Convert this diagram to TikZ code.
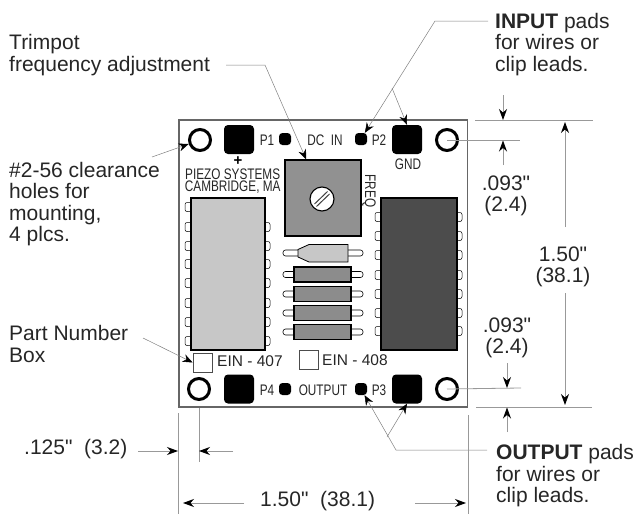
\documentclass[tikz,border=0pt]{standalone}
\usepackage{fontspec}
\setmainfont{Liberation Sans}[Ligatures=TeXOff]
\newfontfamily\boardfont[FakeStretch=0.77,Ligatures=TeXOff]{Liberation Sans}
\usetikzlibrary{arrows.meta}
\tikzset{
	caption/.style={anchor=west, align=left, inner sep=0pt, font=\fontsize{21}{21.5}\selectfont, text=black!85},
	dimtext/.style={align=center, inner sep=0pt, font=\fontsize{21}{21.5}\selectfont, text=black!85},
	boardtext/.style={inner sep=0pt, font=\boardfont\fontsize{15.3}{12.5}\selectfont, text=black!85},
	eintext/.style={anchor=west, inner sep=0pt, font=\fontsize{15.5}{16}\selectfont, text=black!85},
	bigpad/.style={fill=black, rounded corners=4pt, minimum width=30pt, minimum height=29pt, inner sep=0pt},
	dotpad/.style={fill=black, rounded corners=3.5pt, minimum size=12pt, inner sep=0pt},
	hole/.style={circle, draw=black, line width=3pt, fill=white, minimum size=21pt, inner sep=0pt},
	partbox/.style={draw=black!70, line width=0.8pt, fill=white, minimum size=19pt, inner sep=0pt},
	leader/.style={draw=black!50, line width=0.5pt, -{Stealth[length=10pt,width=8pt,black]}},
	dimline/.style={draw=black!40, line width=0.8pt},
	dimarrow/.style={draw=black!40, line width=0.8pt, -{Stealth[length=11pt,width=8pt,black]}},
	pin/.style={draw=black, line width=0.5pt, fill=white, rounded corners=2pt},
	lead/.style={draw=black, line width=0.6pt, fill=white, rounded corners=2.5pt},
	body/.style={draw=black, line width=1.1pt}
}
\begin{document}
\begin{tikzpicture}[x=1pt, y=-1pt]
	\useasboundingbox (0,0) rectangle (638,514);

	% board
	\draw[draw=black!60, line width=1.2pt, fill=white] (179,120) rectangle (467.5,407);

	\node[hole] (holeTL) at (200,140) {};
	\node[hole] (holeTR) at (447,140) {};
	\node[hole] (holeBL) at (199,389) {};
	\node[hole] (holeBR) at (447,389) {};

	\node[bigpad] (padPone) at (239,139.5) {};
	\node[bigpad] (padPtwo) at (407,139.5) {};
	\node[bigpad] (padPfour) at (239,389) {};
	\node[bigpad] (padPthree) at (407,389) {};
	\node[dotpad] (dotPone) at (285,139) {};
	\node[dotpad] (dotPtwo) at (361,139) {};
	\node[dotpad] (dotPfour) at (285,389) {};
	\node[dotpad] (dotPthree) at (361,389) {};

	\node[boardtext] (lblPone) at (267,140) {P1};
	\node[boardtext] (lblPtwo) at (379,140) {P2};
	\node[boardtext] (lblPfour) at (267,390) {P4};
	\node[boardtext] (lblPthree) at (379,390) {P3};
	\node[boardtext] (lblDC) at (325,140) {DC\ \ IN};
	\node[boardtext] (lblOutput) at (323,390) {OUTPUT};
	\node[boardtext] (lblGnd) at (408,164) {GND};
	\node[inner sep=0pt, font=\bfseries\fontsize{15}{15}\selectfont] (lblPlus) at (238,161) {+};
	\node[boardtext, align=center] (lblMaker) at (232.7,181) {PIEZO SYSTEMS\\CAMBRIDGE, MA};
	\node[boardtext, rotate=-90] (lblFreq) at (369,191) {FREQ};

	% IC pins
	\foreach \y in {207,227,246,264,283,303,322,341}
		\draw[pin] (185,\y-4.5) rectangle (195,\y+4.5);
	\foreach \y in {227,246,264,283,303,322,341}
		\draw[pin] (260,\y-4.5) rectangle (270,\y+4.5);
	\foreach \y in {217,236,255,275,294,313,331} {
		\draw[pin] (375,\y-4.5) rectangle (385,\y+4.5);
		\draw[pin] (452,\y-4.5) rectangle (462,\y+4.5);
	}
	\draw[body, fill=black!22] (191,198) rectangle (265,350);
	\draw[body, fill=black!70] (381,198) rectangle (457,350);

	% trimpot
	\node[draw=black, line width=1.1pt, fill=black!43, minimum size=76pt, inner sep=0pt] (trimpot) at (323,198) {};
	\node[circle, draw=black, line width=1.1pt, fill=white, minimum size=24pt, inner sep=0pt] (screw) at (322,199) {};
	\draw[black!75, line width=1pt] (314.5,204) -- (327.5,191.5);
	\draw[black!75, line width=1pt] (316.5,206.5) -- (329.5,194);

	% capacitor and resistors
	\draw[lead] (283,250) rectangle (363,256);
	\draw[body, line width=0.8pt, fill=black!22] (298,249.5) -- (309,244.5) -- (348,244.5) -- (348,262) -- (309,262) -- (298,257) -- cycle;
	\foreach \y in {274.5,294,313,332} {
		\draw[lead] (283,\y-3) rectangle (363,\y+3);
		\draw[body, fill=black!45] (294,\y-7.5) rectangle (351,\y+7.5);
	}

	% part number boxes
	\node[partbox] (boxA) at (202.5,362.5) {};
	\node[partbox] (boxB) at (309,360) {};
	\node[eintext] (einA) at (217,361) {EIN - 407};
	\node[eintext] (einB) at (322,360) {EIN - 408};

	% captions
	\node[caption] (capTrim) at (9,55) {Trimpot\\frequency adjustment};
	\node[caption] (capInput) at (495,44.5) {\textbf{INPUT} pads\\for wires or\\clip leads.};
	\node[caption] (capHoles) at (9,204) {\#2-56 clearance\\holes for\\mounting,\\4 plcs.};
	\node[caption] (capPart) at (9,344) {Part Number\\Box};
	\node[caption] (capOutput) at (496,476) {\textbf{OUTPUT} pads\\for wires or\\clip leads.};

	% leaders
	\coordinate (trimStart) at (226,65);
	\coordinate (trimElbow) at (265,65);
	\coordinate (inStart) at (488,21);
	\coordinate (inElbow) at (435,21);
	\coordinate (inFork) at (392,88);
	\coordinate (holeStart) at (152,157);
	\coordinate (partStart) at (143,338);
	\coordinate (outStart) at (487,450);
	\coordinate (outElbow) at (396,450);
	\coordinate (outFork) at (387,437);
	\draw[leader] (trimStart) -- (trimElbow) -- (trimpot);
	\draw[leader] (inStart) -- (inElbow) -- (dotPtwo);
	\draw[leader] (inFork) -- (padPtwo.north);
	\draw[leader] (holeStart) -- (holeTL);
	\draw[leader] (partStart) -- (boxA.west);
	\draw[leader] (outStart) -- (outElbow) -- (dotPthree);
	\draw[leader] (outFork) -- (padPthree.south);

	% dimensions right
	\coordinate (topLeft) at (475,120);
	\coordinate (topRight) at (593,120);
	\coordinate (botLeft) at (476,407);
	\coordinate (botRight) at (592,407);
	\coordinate (holeTopEnd) at (520,140);
	\coordinate (holeBotEnd) at (521,388);
	\coordinate (aTopStart) at (503,95);
	\coordinate (aTopTip) at (503,120);
	\coordinate (aUpStart) at (503,165);
	\coordinate (aUpTip) at (503,140.5);
	\coordinate (bTopStart) at (507,363);
	\coordinate (bTopTip) at (507,388);
	\coordinate (bUpStart) at (507,432);
	\coordinate (bUpTip) at (507,407.5);
	\coordinate (hUpStart) at (565,227);
	\coordinate (hUpTip) at (565,122);
	\coordinate (hDownStart) at (565,293);
	\coordinate (hDownTip) at (565,405);
	\draw[dimline] (topLeft) -- (topRight);
	\draw[dimline] (botLeft) -- (botRight);
	\draw[dimline] (holeTR.center) -- (holeTopEnd);
	\draw[dimline] (holeBR.center) -- (holeBotEnd);
	\draw[dimarrow] (aTopStart) -- (aTopTip);
	\draw[dimarrow] (aUpStart) -- (aUpTip);
	\draw[dimarrow] (bTopStart) -- (bTopTip);
	\draw[dimarrow] (bUpStart) -- (bUpTip);
	\draw[dimarrow] (hUpStart) -- (hUpTip);
	\draw[dimarrow] (hDownStart) -- (hDownTip);
	\node[dimtext] (dimTop) at (506,196) {.093"\\(2.4)};
	\node[dimtext] (dimBot) at (507,338) {.093"\\(2.4)};
	\node[dimtext] (dimHeight) at (563,267) {1.50"\\(38.1)};

	% dimensions bottom
	\coordinate (extLeftA) at (178.5,413);
	\coordinate (extLeftB) at (178.5,514);
	\coordinate (extRightA) at (468,415);
	\coordinate (extRightB) at (468,514);
	\coordinate (extHoleA) at (199,408);
	\coordinate (extHoleB) at (199,462);
	\coordinate (wStart) at (138,451);
	\coordinate (wTip) at (178,451);
	\coordinate (wBackStart) at (233,451);
	\coordinate (wBackTip) at (199,451);
	\coordinate (lenStart) at (244,503);
	\coordinate (lenTip) at (183,503);
	\coordinate (lenBackStart) at (415,503);
	\coordinate (lenBackTip) at (466,503);
	\draw[dimline] (extLeftA) -- (extLeftB);
	\draw[dimline] (extRightA) -- (extRightB);
	\draw[dimline] (extHoleA) -- (extHoleB);
	\draw[dimarrow] (wStart) -- (wTip);
	\draw[dimarrow] (wBackStart) -- (wBackTip);
	\draw[dimarrow] (lenStart) -- (lenTip);
	\draw[dimarrow] (lenBackStart) -- (lenBackTip);
	\node[dimtext, anchor=west] (dimWidth) at (24,449) {.125"\ \ (3.2)};
	\node[dimtext, anchor=west] (dimLength) at (260,501) {1.50"\ \ (38.1)};
\end{tikzpicture}
\end{document}
